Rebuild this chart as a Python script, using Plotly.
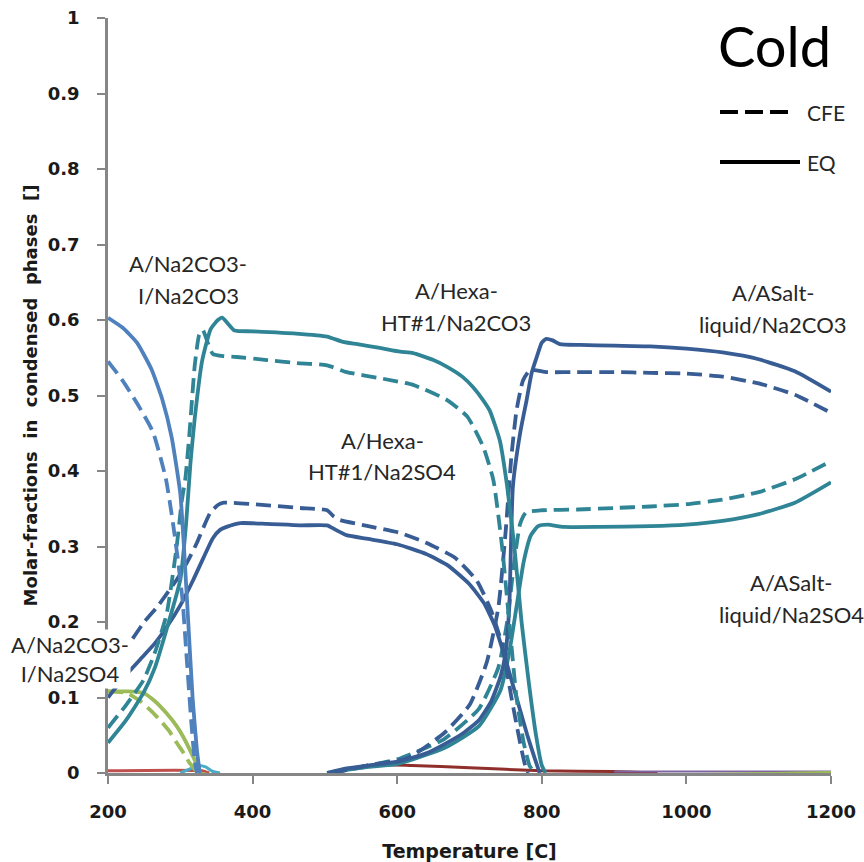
import plotly.graph_objects as go

# ---------------- data ----------------
# A/Na2CO3-I/Na2CO3
T_i_co3_eq = [200, 220, 240, 260, 275, 288, 300, 305, 311, 317, 323, 327]
Y_i_co3_eq = [0.603, 0.590, 0.570, 0.535, 0.495, 0.445, 0.370, 0.300, 0.200, 0.100, 0.030, 0.0]
T_i_co3_cfe = [200, 220, 240, 262, 280, 290, 297, 303, 309, 315, 320, 323]
Y_i_co3_cfe = [0.545, 0.520, 0.490, 0.452, 0.390, 0.330, 0.280, 0.230, 0.150, 0.070, 0.015, 0.0]

# A/Hexa-HT#1/Na2CO3
T_hexa_co3_eq = [200, 225, 249, 265, 281, 300, 308, 314, 320, 330, 342, 352, 358, 366, 375, 400, 460,
                 503, 525, 545, 576, 604, 622, 650, 669, 690, 705, 718, 728, 742, 752, 762, 772, 782,
                 792, 800, 805]
Y_hexa_co3_eq = [0.040, 0.070, 0.106, 0.140, 0.190, 0.256, 0.330, 0.410, 0.470, 0.545, 0.588, 0.600,
                 0.603, 0.595, 0.586, 0.585, 0.582, 0.578, 0.571, 0.568, 0.563, 0.558, 0.556, 0.547,
                 0.538, 0.525, 0.511, 0.495, 0.480, 0.440, 0.380, 0.300, 0.200, 0.120, 0.050, 0.010, 0.0]
T_hexa_co3_cfe = [200, 225, 249, 265, 281, 295, 302, 307, 313, 320, 326, 331, 338, 345, 360, 378, 420,
                  461, 503, 530, 576, 622, 669, 697, 719, 733, 745, 755, 765, 775, 783, 790]
Y_hexa_co3_cfe = [0.060, 0.090, 0.123, 0.160, 0.210, 0.300, 0.360, 0.390, 0.454, 0.540, 0.580, 0.587,
                  0.570, 0.555, 0.552, 0.551, 0.547, 0.543, 0.540, 0.531, 0.523, 0.514, 0.494, 0.472,
                  0.432, 0.388, 0.300, 0.200, 0.100, 0.040, 0.010, 0.0]

# A/Hexa-HT#1/Na2SO4
T_hexa_so4_eq = [200, 225, 248, 265, 281, 300, 318, 332, 345, 355, 364, 383, 420, 466, 503, 515, 530,
                 560, 600, 640, 670, 700, 720, 735, 750, 765, 780, 790, 797]
Y_hexa_so4_eq = [0.100, 0.130, 0.154, 0.172, 0.193, 0.222, 0.256, 0.285, 0.311, 0.322, 0.326, 0.331,
                 0.330, 0.328, 0.328, 0.322, 0.315, 0.310, 0.303, 0.290, 0.275, 0.250, 0.225, 0.195,
                 0.150, 0.100, 0.050, 0.020, 0.0]
T_hexa_so4_cfe = [200, 225, 250, 268, 295, 310, 323, 341, 352, 360, 400, 466, 503, 512, 521, 560, 604,
                  640, 680, 710, 730, 745, 758, 770, 777, 781]
Y_hexa_so4_cfe = [0.130, 0.165, 0.200, 0.220, 0.256, 0.280, 0.305, 0.344, 0.355, 0.358, 0.356, 0.351,
                  0.348, 0.340, 0.335, 0.327, 0.318, 0.305, 0.285, 0.255, 0.215, 0.170, 0.100, 0.040,
                  0.010, 0.0]

# A/ASalt-liquid/Na2CO3
T_asalt_co3_eq = [503, 530, 560, 600, 640, 665, 690, 713, 730, 743, 750, 755, 760, 770, 779, 786, 793,
                  800, 806, 815, 825, 853, 900, 950, 1000, 1050, 1100, 1150, 1200]
Y_asalt_co3_eq = [0.0, 0.006, 0.010, 0.015, 0.026, 0.038, 0.052, 0.070, 0.095, 0.128, 0.160, 0.220,
                  0.379, 0.450, 0.494, 0.530, 0.551, 0.570, 0.575, 0.573, 0.568, 0.567, 0.566, 0.565,
                  0.562, 0.557, 0.548, 0.532, 0.505]
T_asalt_co3_cfe = [510, 560, 615, 665, 700, 724, 740, 750, 758, 765, 774, 784, 807, 853, 900, 950,
                   1000, 1050, 1100, 1150, 1200]
Y_asalt_co3_cfe = [0.0, 0.010, 0.020, 0.053, 0.090, 0.147, 0.220, 0.320, 0.420, 0.480, 0.520, 0.534,
                   0.531, 0.531, 0.531, 0.530, 0.529, 0.525, 0.516, 0.501, 0.477]

# A/ASalt-liquid/Na2SO4
T_asalt_so4_eq = [503, 560, 600, 665, 713, 743, 755, 765, 775, 785, 795, 808, 830, 880, 950, 1000,
                  1050, 1100, 1150, 1200]
Y_asalt_so4_eq = [0.0, 0.008, 0.012, 0.033, 0.062, 0.110, 0.160, 0.220, 0.280, 0.315, 0.327, 0.329,
                  0.326, 0.326, 0.327, 0.329, 0.334, 0.343, 0.358, 0.385]
T_asalt_so4_cfe = [510, 560, 600, 665, 713, 740, 752, 762, 770, 778, 800, 850, 900, 950, 1000, 1050,
                   1100, 1150, 1200]
Y_asalt_so4_cfe = [0.0, 0.010, 0.018, 0.045, 0.085, 0.140, 0.200, 0.280, 0.330, 0.345, 0.348, 0.349,
                   0.351, 0.353, 0.356, 0.362, 0.372, 0.389, 0.413]

# A/Na2CO3-I/Na2SO4
T_i_so4_eq = [200, 228, 249, 265, 281, 295, 304, 312, 318, 324, 328, 1200]
Y_i_so4_eq = [0.108, 0.108, 0.106, 0.095, 0.079, 0.062, 0.048, 0.033, 0.021, 0.009, 0.0, 0.0]
T_i_so4_cfe = [200, 226, 245, 260, 272, 285, 295, 305, 313, 320, 324]
Y_i_so4_cfe = [0.108, 0.106, 0.095, 0.082, 0.070, 0.055, 0.040, 0.026, 0.013, 0.005, 0.0]

# minor phases
T_minor_cyan = [300, 315, 325, 335, 345, 355]
Y_minor_cyan = [0.0, 0.006, 0.010, 0.008, 0.002, 0.0]
T_minor_red = [200, 330, 340]
Y_minor_red = [0.003, 0.003, 0.0]
T_minor_darkred = [505, 540, 580, 620, 700, 800, 900, 960]
Y_minor_darkred = [0.0, 0.006, 0.011, 0.010, 0.007, 0.003, 0.002, 0.0]
T_minor_purple = [900, 1200]
Y_minor_purple = [0.002, 0.002]

x_ticks = [200, 400, 600, 800, 1000, 1200]
y_ticks = [0, 0.1, 0.2, 0.3, 0.4, 0.5, 0.6, 0.7, 0.8, 0.9, 1]
y_ticktext = ["0", "0.1", "0.2", "0.3", "0.4", "0.5", "0.6", "0.7", "0.8", "0.9", "1"]

# ---------------- styling ----------------
BLUE = "#4F81BD"
TEAL = "#2F8595"
DARKBLUE = "#385D94"
GREEN = "#9BBB59"
CYAN = "#4BACC6"
RED = "#C0504D"
DARKRED = "#8E2F2C"
PURPLE = "#8064A2"
DASH = "15px,7px"
LW = 3.8

series = [
    (T_minor_red, Y_minor_red, RED, "solid", 3),
    (T_minor_darkred, Y_minor_darkred, DARKRED, "solid", 3),
    (T_minor_purple, Y_minor_purple, PURPLE, "solid", 2),
    (T_minor_cyan, Y_minor_cyan, CYAN, "solid", 3),
    (T_i_so4_cfe, Y_i_so4_cfe, GREEN, DASH, LW),
    (T_i_so4_eq, Y_i_so4_eq, GREEN, "solid", LW),
    (T_asalt_so4_cfe, Y_asalt_so4_cfe, TEAL, DASH, LW),
    (T_asalt_so4_eq, Y_asalt_so4_eq, TEAL, "solid", LW),
    (T_asalt_co3_cfe, Y_asalt_co3_cfe, DARKBLUE, DASH, LW),
    (T_asalt_co3_eq, Y_asalt_co3_eq, DARKBLUE, "solid", LW),
    (T_hexa_so4_cfe, Y_hexa_so4_cfe, DARKBLUE, DASH, LW),
    (T_hexa_so4_eq, Y_hexa_so4_eq, DARKBLUE, "solid", LW),
    (T_hexa_co3_cfe, Y_hexa_co3_cfe, TEAL, DASH, LW),
    (T_hexa_co3_eq, Y_hexa_co3_eq, TEAL, "solid", LW),
    (T_i_co3_cfe, Y_i_co3_cfe, BLUE, DASH, LW),
    (T_i_co3_eq, Y_i_co3_eq, BLUE, "solid", LW),
]

fig = go.Figure()
for xs, ys, col, dash, w in series:
    fig.add_trace(go.Scatter(
        x=xs, y=ys, mode="lines", showlegend=False, hoverinfo="skip",
        line=dict(color=col, width=w, dash=dash, shape="spline", smoothing=0.5),
    ))

TEXT_FONT = dict(family="Lato, Carlito, Calibri, sans-serif", size=22, color="#262626")
labels = [
    ("A/Na2CO3-", 188, 263), ("I/Na2CO3", 188, 295),
    ("A/Hexa-", 456, 290), ("HT#1/Na2CO3", 456, 322),
    ("A/Hexa-", 382, 440), ("HT#1/Na2SO4", 382, 472),
    ("A/ASalt-", 773, 292), ("liquid/Na2CO3", 773, 324),
    ("A/ASalt-", 791, 582), ("liquid/Na2SO4", 791, 614),
]
for txt, px, py in labels:
    fig.add_annotation(text=txt, xref="paper", yref="paper",
                       x=(px - 108) / 723, y=(773 - py) / 755,
                       showarrow=False, font=TEXT_FONT, xanchor="center", yanchor="middle")
# label with white fill that hides the curves behind it
fig.add_annotation(text="A/Na2CO3-<br>I/Na2SO4", xref="paper", yref="paper",
                   x=(70 - 108) / 723, y=(773 - 659) / 755, showarrow=False,
                   font=TEXT_FONT, xanchor="center", yanchor="middle", bgcolor="white",
                   borderpad=1)

# "Cold" title
fig.add_annotation(text="Cold", xref="paper", yref="paper", x=(774 - 108) / 723,
                   y=(773 - 45) / 755, showarrow=False, xanchor="center", yanchor="middle",
                   font=dict(family="Lato, Carlito, Calibri, sans-serif", size=56, color="#000000"))

# legend keys
legend_items = [("CFE", DASH, 112, 792), ("EQ", "solid", 162, 800)]
for name, dash, py, xend in legend_items:
    yy = (773 - py) / 755
    fig.add_shape(type="line", xref="paper", yref="paper", x0=(720 - 108) / 723,
                  x1=(xend - 108) / 723, y0=yy, y1=yy,
                  line=dict(color="black", width=4, dash="18px,7px" if dash != "solid" else "solid"))
    fig.add_annotation(text=name, xref="paper", yref="paper", x=(805 - 108) / 723, y=yy,
                       showarrow=False, xanchor="left", yanchor="middle",
                       font=dict(family="Lato, Carlito, Calibri, sans-serif", size=21, color="#262626"))

AX_FONT = dict(family="DejaVu Sans, Verdana, sans-serif", size=18, color="#1a1a1a", weight="bold")
fig.update_xaxes(
    range=[200, 1200], tickvals=x_ticks, ticktext=[str(v) for v in x_ticks],
    showline=True, linecolor="#868686", linewidth=2.5, mirror=False,
    ticks="outside", ticklen=8, tickwidth=2, tickcolor="#868686",
    showgrid=False, zeroline=False, tickfont=AX_FONT, ticklabelstandoff=13,
    layer="below traces", automargin=False,
    title=dict(text="Temperature [C]", standoff=24,
               font=dict(family="DejaVu Sans, Verdana, sans-serif", size=19, color="#1a1a1a",
                         weight="bold")),
)
fig.update_yaxes(
    range=[0, 1], tickvals=y_ticks, ticktext=y_ticktext,
    showline=True, linecolor="#868686", linewidth=2.5,
    ticks="outside", ticklen=8, tickwidth=2, tickcolor="#868686",
    showgrid=False, zeroline=False, tickfont=AX_FONT, ticklabelstandoff=14,
    layer="below traces", automargin=False,
    title=dict(text="Molar-fractions  in  condensed  phases  []", standoff=6,
               font=dict(family="DejaVu Sans, Verdana, sans-serif", size=18, color="#1a1a1a",
                         weight="bold")),
)
fig.update_layout(
    width=864, height=862, autosize=False,
    margin=dict(l=108, r=33, t=18, b=89),
    plot_bgcolor="white", paper_bgcolor="white", showlegend=False,
)
fig.write_html("out.html")
